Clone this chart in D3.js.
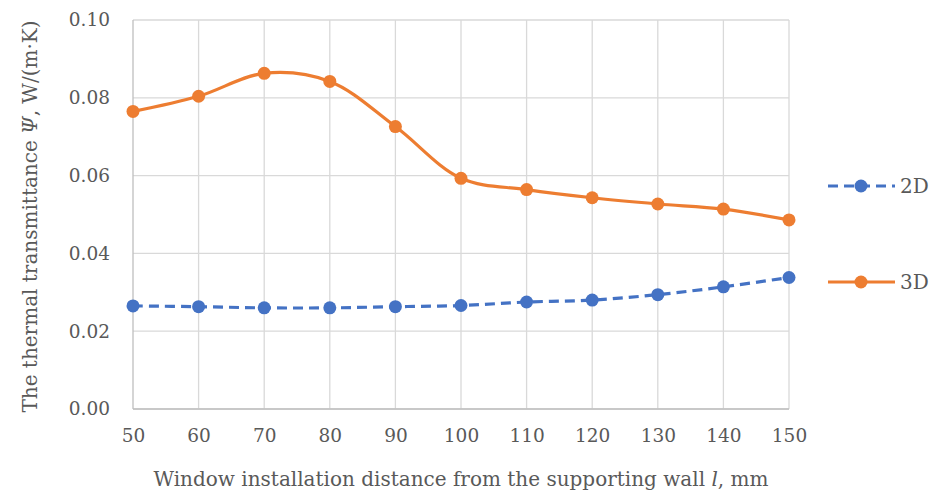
<!DOCTYPE html>
<html>
<head>
<meta charset="utf-8">
<style>
  body { margin: 0; background: #fff; }
  text { font-family: "DejaVu Serif", serif; fill: #595959; }
</style>
</head>
<body>
<div id="chart"></div>
<script src="https://d3js.org/d3.v7.min.js"></script>
<script>
// distances, mm
const distances = [50, 60, 70, 80, 90, 100, 110, 120, 130, 140, 150];
const psi2D = [0.0265, 0.0263, 0.0260, 0.0260, 0.0263, 0.0266, 0.0275, 0.0280, 0.0294, 0.0314, 0.0338];
const psi3D = [0.0765, 0.0804, 0.0863, 0.0842, 0.0726, 0.0593, 0.0564, 0.0543, 0.0527, 0.0514, 0.0486];
const yTicks = [0, 0.02, 0.04, 0.06, 0.08, 0.10];

const width = 936, height = 496;
const margin = { top: 20, right: 147, bottom: 87, left: 133 };
const innerW = width - margin.left - margin.right;
const innerH = height - margin.top - margin.bottom;

const svg = d3.select("#chart").append("svg")
    .attr("width", width)
    .attr("height", height);

const g = svg.append("g")
    .attr("transform", `translate(${margin.left},${margin.top})`);

const x = d3.scaleLinear().domain([50, 150]).range([0, innerW]);
const y = d3.scaleLinear().domain([0, 0.10]).range([innerH, 0]);

// grid
g.selectAll(".hgrid").data(yTicks).enter().append("line")
    .attr("x1", 0).attr("x2", innerW)
    .attr("y1", d => y(d)).attr("y2", d => y(d))
    .attr("stroke", "#d9d9d9").attr("stroke-width", 1.3);

g.selectAll(".vgrid").data(distances).enter().append("line")
    .attr("x1", d => x(d)).attr("x2", d => x(d))
    .attr("y1", 0).attr("y2", innerH)
    .attr("stroke", d => d === 50 ? "#bfbfbf" : "#d9d9d9").attr("stroke-width", 1.3);

g.append("line")
    .attr("x1", 0).attr("x2", innerW)
    .attr("y1", innerH).attr("y2", innerH)
    .attr("stroke", "#bfbfbf").attr("stroke-width", 1.3);

// axes
const yAxis = d3.axisLeft(y).tickValues(yTicks).tickFormat(d3.format(".2f")).tickSize(0).tickPadding(23);
g.append("g").call(yAxis)
    .call(a => a.select(".domain").remove())
    .selectAll("text").style("font-size", "18.5px").attr("fill", "#595959");

const xAxis = d3.axisBottom(x).tickValues(distances).tickSize(0).tickPadding(20);
g.append("g").attr("transform", `translate(0,${innerH})`).call(xAxis)
    .call(a => a.select(".domain").remove())
    .selectAll("text").style("font-size", "18.5px").attr("fill", "#595959");

// axis titles
const yTitle = svg.append("text")
    .attr("transform", `translate(37,${margin.top + innerH / 2 + 2}) rotate(-90)`)
    .attr("text-anchor", "middle")
    .style("font-size", "20px");
yTitle.append("tspan").text("The thermal transmittance ");
yTitle.append("tspan").attr("font-style", "italic").text("Ψ");
yTitle.append("tspan").text(", W/(m·K)");

const xTitle = svg.append("text")
    .attr("x", margin.left + innerW / 2)
    .attr("y", 486)
    .attr("text-anchor", "middle")
    .style("font-size", "20px");
xTitle.append("tspan").text("Window installation distance from the supporting wall ");
xTitle.append("tspan").attr("font-style", "italic").text("l");
xTitle.append("tspan").text(", mm");

// series
const series = [
  { name: "2D", values: psi2D, color: "#4472C4", dash: "10,6", curve: d3.curveCatmullRom.alpha(0.5) },
  { name: "3D", values: psi3D, color: "#ED7D31", dash: null, curve: d3.curveCatmullRom.alpha(0.5) }
];

series.forEach(s => {
  const pts = distances.map((d, i) => [d, s.values[i]]);
  const line = d3.line().x(p => x(p[0])).y(p => y(p[1])).curve(s.curve);
  g.append("path")
      .attr("d", line(pts))
      .attr("fill", "none")
      .attr("stroke", s.color)
      .attr("stroke-width", 3.2)
      .attr("stroke-dasharray", s.dash);
  g.selectAll(null).data(pts).enter().append("circle")
      .attr("cx", p => x(p[0])).attr("cy", p => y(p[1]))
      .attr("r", 6.5)
      .attr("fill", s.color);
});

// legend
const legend = svg.append("g").attr("transform", "translate(828,0)");
series.forEach((s, i) => {
  const ly = i === 0 ? 186 : 282;
  legend.append("line")
      .attr("x1", 0).attr("x2", 67).attr("y1", ly).attr("y2", ly)
      .attr("stroke", s.color).attr("stroke-width", 3.2)
      .attr("stroke-dasharray", s.dash);
  legend.append("circle").attr("cx", 33).attr("cy", ly).attr("r", 6.5).attr("fill", s.color);
  legend.append("text").attr("x", 72).attr("y", ly + 7)
      .style("font-size", "20px").text(s.name);
});
</script>
</body>
</html>
